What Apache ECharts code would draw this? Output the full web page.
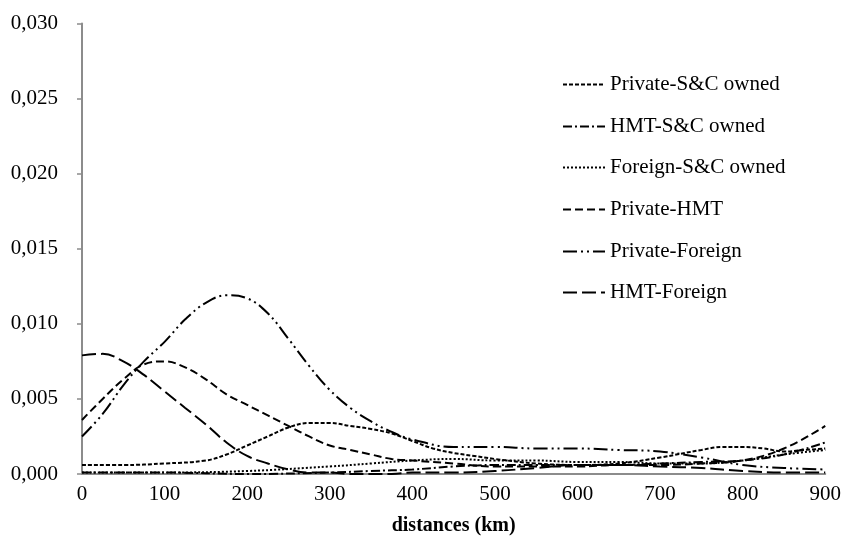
<!DOCTYPE html>
<html>
<head>
<meta charset="utf-8">
<script src="https://cdn.jsdelivr.net/npm/echarts@6/dist/echarts.min.js"></script>
<style>html,body{margin:0;padding:0;background:#fff}#c{width:844px;height:543px}</style>
</head>
<body>
<div id="c"></div>
<script>
var xTicks = [0,100,200,300,400,500,600,700,800,900];
var yTicks = [0,0.005,0.010,0.015,0.020,0.025,0.030];
var seriesNames = ['Private-S&C owned','HMT-S&C owned','Foreign-S&C owned','Private-HMT','Private-Foreign','HMT-Foreign'];

var kmA = [0,50,100,150,175,200,225,250,275,300,325,350,375,400,425,450,475,500,550,600,650,700,750,775,800,825,850,875,900];
var privateSC = [0.0006,0.0006,0.0007,0.0009,0.0013,0.0019,0.0025,0.0031,0.0034,0.0034,0.0032,0.0030,0.0027,0.0022,0.0017,0.0014,0.0012,0.0010,0.0007,0.0006,0.0007,0.0011,0.0016,0.0018,0.0018,0.0017,0.0015,0.0016,0.0017];

var kmB = [0,100,200,300,350,400,450,500,550,600,650,700,750,800,850,900];
var hmtSC = [0.0001,0.0001,0.0000,0.0001,0.0002,0.0003,0.0005,0.0006,0.0006,0.0006,0.0006,0.0007,0.0008,0.0009,0.0013,0.0021];
var foreignSC = [0.0001,0.0001,0.0002,0.0005,0.0007,0.0009,0.0010,0.0009,0.0009,0.0008,0.0008,0.0007,0.0007,0.0009,0.0013,0.0016];

var kmC = [0,25,50,75,100,125,150,175,200,225,250,275,300,325,350,375,400,450,500,550,600,650,700,750,800,850,900];
var privateHMT = [0.0036,0.0050,0.0063,0.0073,0.0075,0.0071,0.0063,0.0053,0.0046,0.0039,0.0032,0.0025,0.0019,0.0016,0.0013,0.0010,0.0009,0.0007,0.0005,0.0005,0.0005,0.0006,0.0006,0.0007,0.0009,0.0017,0.0032];
var privateForeign = [0.0025,0.0040,0.0059,0.0075,0.0088,0.0103,0.0114,0.0119,0.0117,0.0107,0.0090,0.0072,0.0056,0.0044,0.0035,0.0028,0.0023,0.0018,0.0018,0.0017,0.0017,0.0016,0.0015,0.0011,0.0006,0.0004,0.0003];
var hmtForeign = [0.0079,0.0080,0.0075,0.0066,0.0055,0.0044,0.0033,0.0021,0.0012,0.0007,0.0003,0.0001,0.0001,0.0000,0.0000,0.0000,0.0001,0.0001,0.0002,0.0004,0.0006,0.0006,0.0005,0.0004,0.0002,0.0001,0.0001];

function pairs(xs, ys){ return xs.map(function(x,i){ return [x, ys[i]]; }); }

var dashes = [[4,2],[9,3,2,3],[2,2],[8,4],[14,4,2,4,2,4],[14,5]];
var dataSets = [pairs(kmA,privateSC), pairs(kmB,hmtSC), pairs(kmB,foreignSC), pairs(kmC,privateHMT), pairs(kmC,privateForeign), pairs(kmC,hmtForeign)];
var legendTops = [80,122,163,205,247,288];

var font = 'Liberation Serif';
var series = seriesNames.map(function(n,i){
  return {
    name: n, type: 'line', smooth: 0.4, symbol: 'none', data: dataSets[i],
    lineStyle: { color: '#000', width: 2, type: dashes[i] },
    itemStyle: { color: '#000' }
  };
});
var legends = seriesNames.map(function(n,i){
  return {
    data: [n], left: 557, top: legendTops[i] - 11, itemWidth: 42, itemHeight: 20, itemGap: 4,
    itemStyle: { opacity: 0 },
    lineStyle: { color: '#000', width: 2, type: dashes[i] },
    textStyle: { fontFamily: font, fontSize: 21, color: '#000' }
  };
});

var chart = echarts.init(document.getElementById('c'));
chart.setOption({
  animation: false,
  backgroundColor: '#fff',
  grid: { left: 82, right: 18, top: 23.5, bottom: 69 },
  legend: legends,
  xAxis: {
    type: 'value', min: 0, max: 900, interval: 100,
    name: 'distances (km)', nameLocation: 'middle', nameGap: 42,
    nameTextStyle: { fontFamily: font, fontSize: 20, fontWeight: 'bold', color: '#000' },
    axisLine: { lineStyle: { color: '#8c8c8c', width: 2 } },
    axisTick: { show: false },
    axisLabel: { fontFamily: font, fontSize: 21, color: '#000', margin: 10,
      formatter: function(v){ return xTicks.indexOf(v) >= 0 ? String(v) : ''; } },
    splitLine: { show: false }
  },
  yAxis: {
    type: 'value', min: 0, max: 0.03, interval: 0.005,
    axisLine: { show: true, lineStyle: { color: '#8c8c8c', width: 2 } },
    axisTick: { show: true, length: 5, lineStyle: { color: '#8c8c8c', width: 1.5 } },
    axisLabel: { fontFamily: font, fontSize: 21, color: '#000', margin: 24,
      formatter: function(v){
        for (var i=0;i<yTicks.length;i++){ if (Math.abs(yTicks[i]-v) < 1e-9) return yTicks[i].toFixed(3).replace('.',','); }
        return '';
      } },
    splitLine: { show: false }
  },
  series: series
});
</script>
</body>
</html>
